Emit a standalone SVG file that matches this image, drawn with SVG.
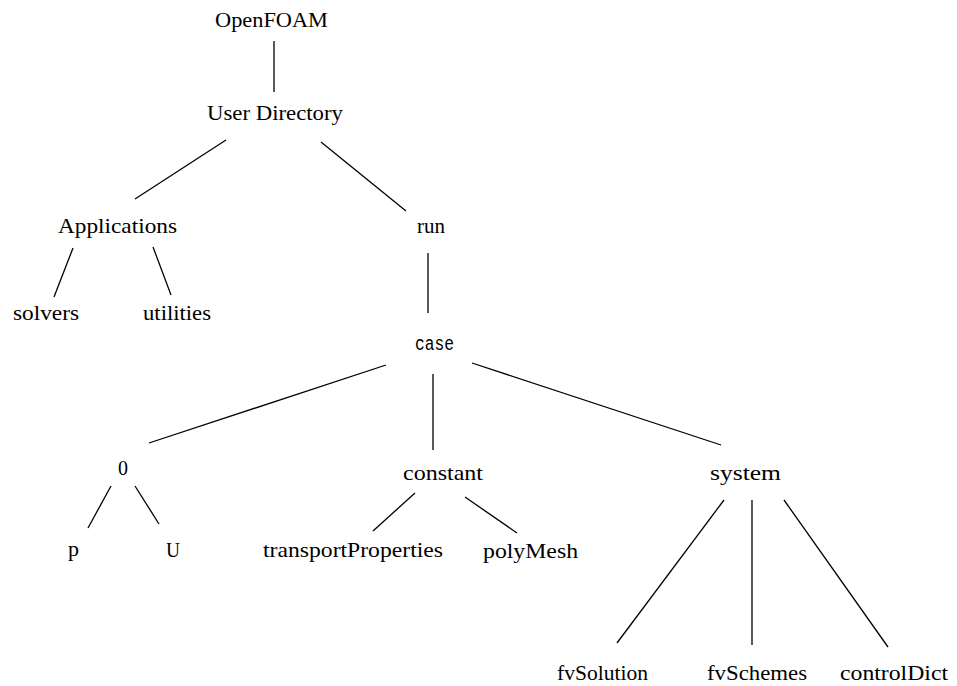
<svg xmlns="http://www.w3.org/2000/svg" width="957" height="686" viewBox="0 0 957 686">
<style>
text{font-family:"Liberation Serif","Times New Roman",serif;font-size:22px;fill:#000}
.mono{font-family:"Liberation Mono","Courier New",monospace;font-size:20px}
#connectors line{stroke:#000;stroke-width:1.3;fill:none}
</style>
<rect width="957" height="686" fill="#fff"/>
<g id="connectors">
<line x1="274" y1="41" x2="274" y2="92"/>
<line x1="226" y1="140" x2="135" y2="199"/>
<line x1="321" y1="142" x2="406" y2="211"/>
<line x1="73" y1="248" x2="54" y2="297"/>
<line x1="153" y1="247" x2="171" y2="295"/>
<line x1="428" y1="253" x2="428" y2="313"/>
<line x1="386" y1="365" x2="149" y2="443"/>
<line x1="433" y1="374" x2="433" y2="450"/>
<line x1="472" y1="363" x2="721" y2="445"/>
<line x1="111" y1="486" x2="88" y2="528"/>
<line x1="135" y1="486" x2="159" y2="524"/>
<line x1="415" y1="493" x2="373" y2="531"/>
<line x1="465" y1="497" x2="517" y2="533"/>
<line x1="724" y1="500" x2="617" y2="643"/>
<line x1="752" y1="500" x2="752" y2="645"/>
<line x1="784" y1="500" x2="888" y2="647"/>
</g>
<g id="openfoam"><text x="215" y="27" textLength="113" lengthAdjust="spacingAndGlyphs">OpenFOAM</text></g>
<g id="user-directory"><text x="207" y="120" textLength="136" lengthAdjust="spacingAndGlyphs">User Directory</text></g>
<g id="applications"><text x="58" y="233" textLength="119" lengthAdjust="spacingAndGlyphs">Applications</text></g>
<g id="run"><text x="417" y="233" textLength="28" lengthAdjust="spacingAndGlyphs">run</text></g>
<g id="solvers"><text x="13" y="320" textLength="66" lengthAdjust="spacingAndGlyphs">solvers</text></g>
<g id="utilities"><text x="143" y="320" textLength="68" lengthAdjust="spacingAndGlyphs">utilities</text></g>
<g id="case"><text class="mono" x="415" y="350" textLength="39" lengthAdjust="spacingAndGlyphs">case</text></g>
<g id="zero"><text x="118" y="475" textLength="10" lengthAdjust="spacingAndGlyphs">0</text></g>
<g id="constant"><text x="403" y="480" textLength="80" lengthAdjust="spacingAndGlyphs">constant</text></g>
<g id="system"><text x="710" y="480" textLength="71" lengthAdjust="spacingAndGlyphs">system</text></g>
<g id="p"><text x="68" y="556" textLength="11" lengthAdjust="spacingAndGlyphs">p</text></g>
<g id="U"><text x="166" y="557" textLength="14" lengthAdjust="spacingAndGlyphs">U</text></g>
<g id="transportProperties"><text x="263" y="557" textLength="180" lengthAdjust="spacingAndGlyphs">transportProperties</text></g>
<g id="polyMesh"><text x="483" y="558" textLength="95" lengthAdjust="spacingAndGlyphs">polyMesh</text></g>
<g id="fvSolution"><text x="557" y="680" textLength="91" lengthAdjust="spacingAndGlyphs">fvSolution</text></g>
<g id="fvSchemes"><text x="707" y="680" textLength="100" lengthAdjust="spacingAndGlyphs">fvSchemes</text></g>
<g id="controlDict"><text x="840" y="680" textLength="108" lengthAdjust="spacingAndGlyphs">controlDict</text></g>
</svg>
